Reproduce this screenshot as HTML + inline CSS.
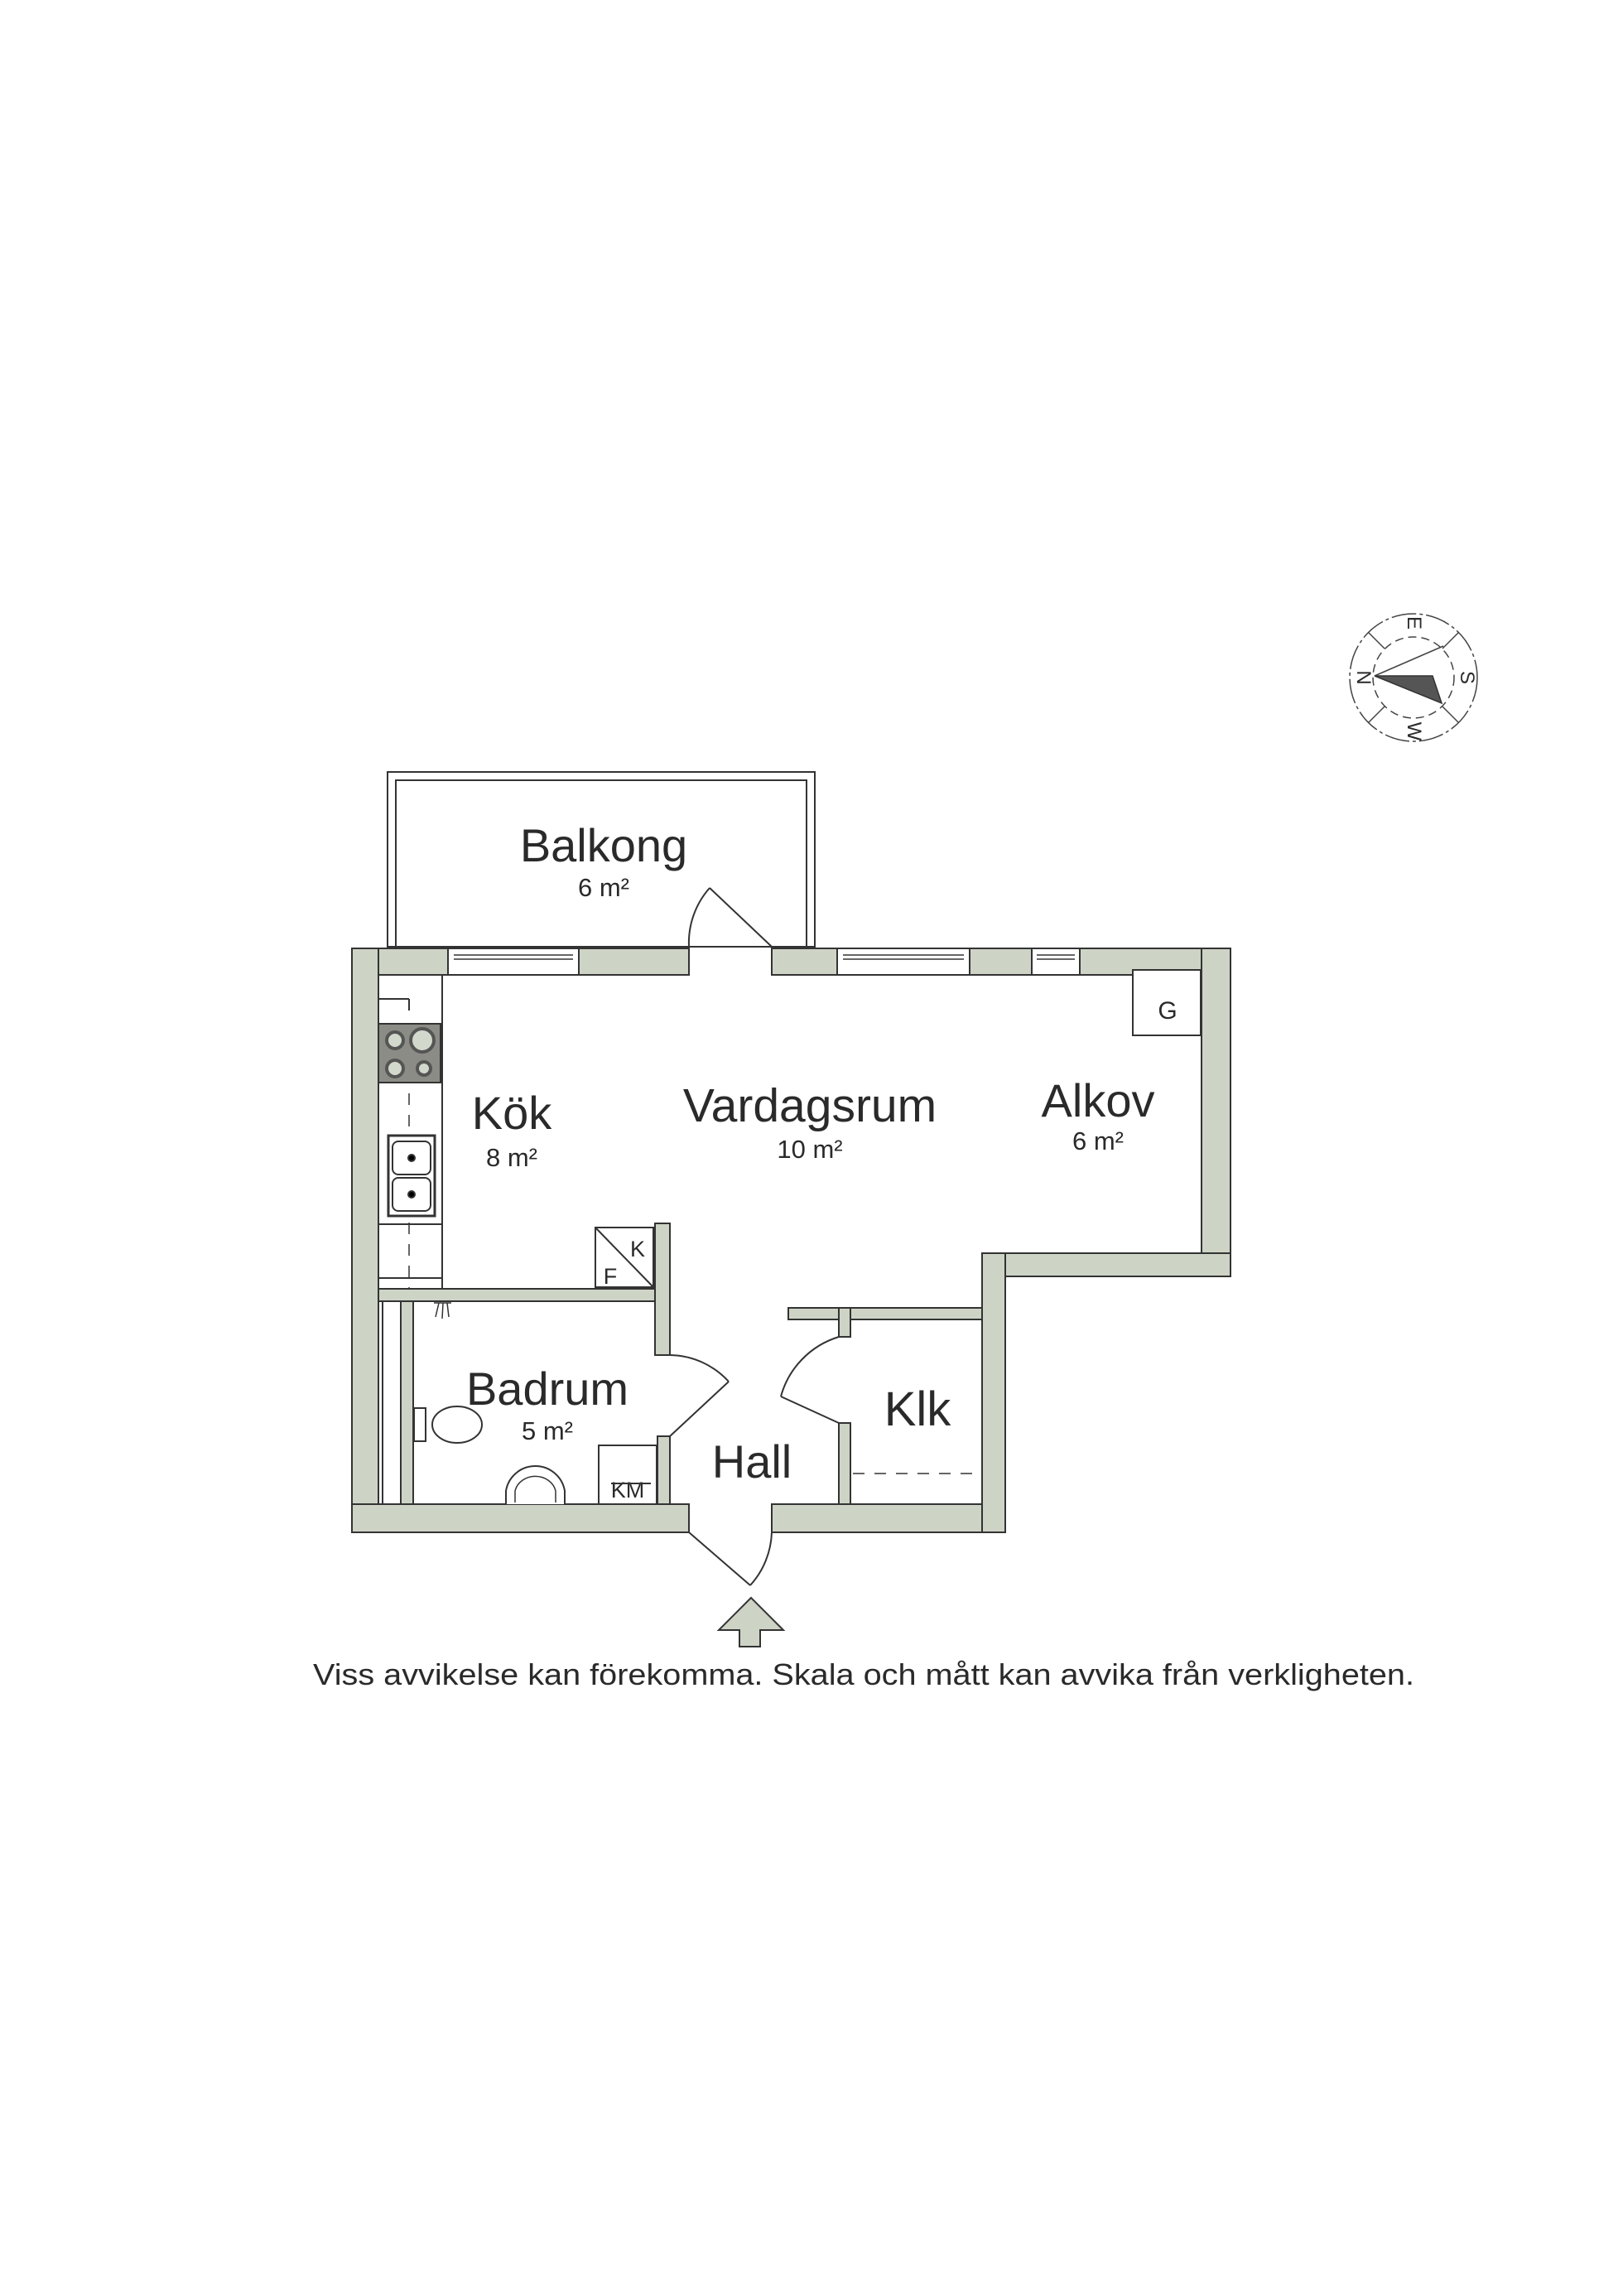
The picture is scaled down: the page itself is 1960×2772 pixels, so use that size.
<!DOCTYPE html>
<html><head><meta charset="utf-8"><style>
html,body{margin:0;padding:0;background:#fff;}
svg{display:block;}
text{font-family:"Liberation Sans",sans-serif;fill:#2a2a2a;}
</style></head><body>
<svg width="1960" height="2772" viewBox="0 0 1960 2772" xmlns="http://www.w3.org/2000/svg">
<rect width="1960" height="2772" fill="#fff"/>
<g stroke="#333" stroke-width="2">
<rect x="468" y="932" width="516" height="211" fill="#fff"/>
<polyline points="478,1143 478,942 974,942 974,1143" fill="none"/>
<g fill="#cdd4c6">
<rect x="425" y="1145" width="116" height="32"/>
<rect x="699" y="1145" width="133" height="32"/>
<rect x="932" y="1145" width="79" height="32"/>
<rect x="1171" y="1145" width="75" height="32"/>
<rect x="1304" y="1145" width="182" height="32"/>
<rect x="425" y="1145" width="32" height="705"/>
<rect x="425" y="1816" width="407" height="34"/>
<rect x="932" y="1816" width="282" height="34"/>
<rect x="1451" y="1145" width="35" height="396"/>
<rect x="1186" y="1513" width="300" height="28"/>
<rect x="1186" y="1513" width="28" height="337"/>
<rect x="457" y="1556" width="350" height="15"/>
<rect x="791" y="1477" width="18" height="159"/>
<rect x="794" y="1734" width="15" height="82"/>
<rect x="484" y="1571" width="15" height="245"/>
<rect x="952" y="1579" width="234" height="14"/>
<rect x="1013" y="1579" width="14" height="35"/>
<rect x="1013" y="1718" width="14" height="98"/>
</g>
<g fill="#fff">
<rect x="541" y="1145" width="158" height="32"/>
<rect x="1011" y="1145" width="160" height="32"/>
<rect x="1246" y="1145" width="58" height="32"/>
</g>
<g stroke-width="1.5">
<line x1="548" y1="1153" x2="692" y2="1153"/><line x1="548" y1="1158" x2="692" y2="1158"/>
<line x1="1018" y1="1153" x2="1164" y2="1153"/><line x1="1018" y1="1158" x2="1164" y2="1158"/>
<line x1="1252" y1="1153" x2="1298" y2="1153"/><line x1="1252" y1="1158" x2="1298" y2="1158"/>
</g>
<rect x="462" y="1571" width="22" height="245" fill="#fff"/>
<g fill="none">
<line x1="932" y1="1143" x2="857" y2="1072"/>
<path d="M857,1072 A100,100 0 0 0 832,1143"/>
<line x1="809" y1="1734" x2="880" y2="1668"/>
<path d="M880,1668 A98,98 0 0 0 809,1636"/>
<line x1="1013" y1="1718" x2="943" y2="1686"/>
<path d="M943,1686 A104,104 0 0 1 1013,1614"/>
<line x1="832" y1="1850" x2="906" y2="1914"/>
<path d="M906,1914 A100,100 0 0 0 932,1850"/>
</g>
<rect x="457" y="1177" width="77" height="379" fill="#fff"/>
<line x1="457" y1="1206" x2="494" y2="1206"/><line x1="494" y1="1206" x2="494" y2="1220"/>
<line x1="494" y1="1320" x2="494" y2="1556" stroke-dasharray="14,12" stroke-width="1.5"/>
<line x1="457" y1="1478" x2="534" y2="1478"/>
<line x1="457" y1="1543" x2="534" y2="1543"/>
<rect x="457" y="1236" width="75" height="71" fill="#8c8c86"/>
<g fill="#d2d8cb" stroke="#555" stroke-width="4">
<circle cx="477" cy="1256" r="10"/><circle cx="510" cy="1256" r="14"/>
<circle cx="477" cy="1290" r="10"/><circle cx="512" cy="1290" r="8"/>
</g>
<rect x="469" y="1371" width="56" height="97" fill="#fff" stroke-width="3"/>
<rect x="474" y="1378" width="46" height="40" rx="7" fill="#fff"/>
<rect x="474" y="1422" width="46" height="40" rx="7" fill="#fff"/>
<circle cx="497" cy="1398" r="4"/><circle cx="497" cy="1442" r="4"/>
<rect x="719" y="1482" width="70" height="72" fill="#fff"/>
<line x1="719" y1="1482" x2="789" y2="1554"/>
<rect x="1368" y="1171" width="82" height="79" fill="#fff"/>
<rect x="723" y="1745" width="70" height="71" fill="#fff"/>
<rect x="500" y="1700" width="14" height="40" fill="#fff"/>
<ellipse cx="552" cy="1720" rx="30" ry="22" fill="#fff"/>
<path d="M611,1816 L611,1800 A36,36 0 0 1 682,1800 L682,1816" fill="#fff"/>
<path d="M622,1814 L622,1800 A25,22 0 0 1 671,1800 L671,1814" fill="none" stroke-width="1.5"/>
<line x1="1030" y1="1779" x2="1180" y2="1779" stroke-dasharray="14,12" stroke-width="1.5"/>
<g stroke-width="1.5"><line x1="530" y1="1573" x2="526" y2="1590"/><line x1="535" y1="1573" x2="534" y2="1592"/><line x1="540" y1="1573" x2="542" y2="1590"/><line x1="524" y1="1573" x2="545" y2="1573"/></g>
<polygon points="907,1929 868,1968 893,1968 893,1988 918,1988 918,1968 946,1968" fill="#cdd4c6"/>
</g>
<g text-anchor="middle">
<text x="729" y="1040" font-size="56">Balkong</text>
<text x="729" y="1082" font-size="31">6 m²</text>
<text x="618" y="1363" font-size="56">Kök</text>
<text x="618" y="1408" font-size="31">8 m²</text>
<text x="978" y="1354" font-size="57">Vardagsrum</text>
<text x="978" y="1398" font-size="31">10 m²</text>
<text x="1326" y="1348" font-size="56">Alkov</text>
<text x="1326" y="1388" font-size="31">6 m²</text>
<text x="1410" y="1230" font-size="30">G</text>
<text x="661" y="1696" font-size="56">Badrum</text>
<text x="661" y="1738" font-size="31">5 m²</text>
<text x="908" y="1784" font-size="56">Hall</text>
<text x="1108" y="1721" font-size="58">Klk</text>
<text x="758" y="1808" font-size="27">KM</text>
<text x="770" y="1517" font-size="27">K</text>
<text x="737" y="1550" font-size="27">F</text>
<text x="1043" y="2034" font-size="36" textLength="1330" lengthAdjust="spacingAndGlyphs">Viss avvikelse kan förekomma. Skala och mått kan avvika från verkligheten.</text>
</g>
<line x1="738" y1="1791" x2="786" y2="1791" stroke="#333" stroke-width="2"/>
<g fill="none" stroke="#444" stroke-width="1.5">
<circle cx="1707" cy="818" r="77" stroke-dasharray="30,4,4,4"/>
<circle cx="1707" cy="818" r="49" stroke-dasharray="10,6"/>
<line x1="1653" y1="764" x2="1672" y2="783"/><line x1="1761" y1="764" x2="1742" y2="783"/>
<line x1="1653" y1="872" x2="1672" y2="853"/><line x1="1761" y1="872" x2="1742" y2="853"/>
<line x1="1660" y1="816" x2="1743" y2="780"/>
</g>
<polygon points="1660,816 1730,816 1741,849" fill="#555" stroke="#333" stroke-width="1.5"/>
<g font-size="24" text-anchor="middle">
<text transform="translate(1647,818) rotate(90)" y="8">N</text>
<text transform="translate(1708,752) rotate(90)" y="8">E</text>
<text transform="translate(1772,818) rotate(90)" y="8">S</text>
<text transform="translate(1708,883) rotate(90)" y="8">W</text>
</g>
</svg>
</body></html>
